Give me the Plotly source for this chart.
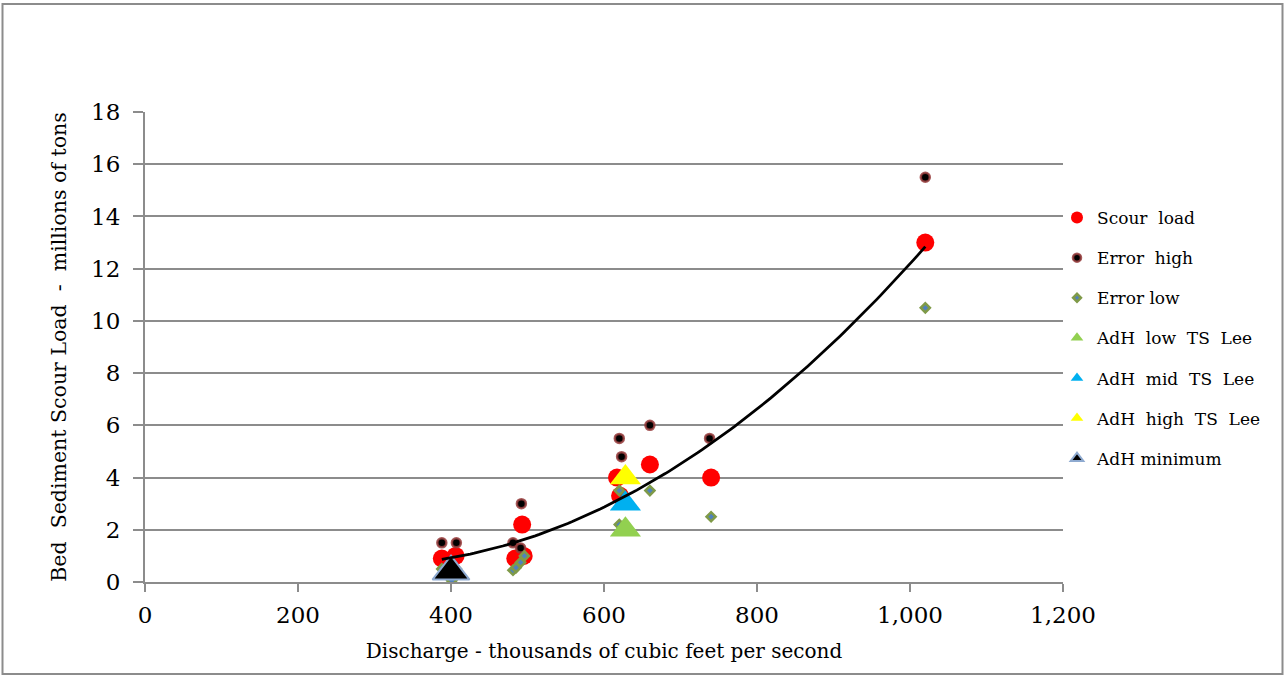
import numpy as np
import plotly.graph_objects as go

# Discharge (thousand cfs) and bed sediment scour load (million tons)
scour_x = [388, 406, 484, 495, 493, 617, 621, 660, 740, 1020]
scour_y = [0.9, 1.0, 0.9, 1.0, 2.2, 4.0, 3.3, 4.5, 4.0, 13.0]

err_high_x = [388, 407, 481, 491, 492, 620, 623, 660, 738, 1020]
err_high_y = [1.5, 1.5, 1.5, 1.3, 3.0, 5.5, 4.8, 6.0, 5.5, 15.5]

err_low_x = [388, 407, 401, 481, 485, 491, 496, 620, 620, 660, 740, 1020]
err_low_y = [0.5, 0.5, 0.05, 0.45, 0.55, 0.75, 1.0, 2.2, 3.5, 3.5, 2.5, 10.5]

adh_low_x, adh_low_y = [628], [2.0]
adh_mid_x, adh_mid_y = [628], [3.0]
adh_high_x, adh_high_y = [628], [4.0]
adh_min_x, adh_min_y = [400], [0.4]

x_ticks = [0, 200, 400, 600, 800, 1000, 1200]
x_tick_text = ["0", "200", "400", "600", "800", "1,000", "1,200"]
y_ticks = [0, 2, 4, 6, 8, 10, 12, 14, 16, 18]

# Second-order polynomial trendline fitted to the scour load points
coef = np.polyfit(scour_x, scour_y, 2)
trend_x = np.linspace(min(scour_x), max(scour_x), 120)
trend_y = np.polyval(coef, trend_x)

FONT = "DejaVu Serif"
W, H = 1285, 677
ML, MR, MT, MB = 145, 222, 112, 95
NB = "\u00a0"

fig = go.Figure()

def add(name, x, y, group, legend_size, **marker):
    # plotted points (legend entry supplied by a companion key trace with smaller symbol)
    fig.add_trace(go.Scatter(x=x, y=y, mode="markers", name=name, showlegend=False,
                             legendgroup=group, marker=marker))
    key_marker = dict(marker)
    key_marker["size"] = legend_size
    fig.add_trace(go.Scatter(x=[None], y=[None], mode="markers", name=name,
                             legendgroup=group, marker=key_marker, hoverinfo="skip"))

add("Scour" + NB + NB + "load", scour_x, scour_y, "g1", 12,
    color="#ff0000", size=18, line=dict(width=0))
add("Error" + NB + NB + "high", err_high_x, err_high_y, "g2", 8,
    color="#000000", size=9, line=dict(color="rgba(150,60,60,0.85)", width=2.5))
add("Error low", err_low_x, err_low_y, "g3", 6, symbol="diamond",
    color="#4f81bd", size=7, line=dict(color="#7f9a48", width=2.5))
add("AdH" + NB + NB + "low" + NB + NB + "TS" + NB + NB + "Lee", adh_low_x, adh_low_y, "g4", 11,
    symbol="triangle-up", color="#92d050", size=27, line=dict(width=0))
add("AdH" + NB + NB + "mid" + NB + NB + "TS" + NB + NB + "Lee", adh_mid_x, adh_mid_y, "g5", 11,
    symbol="triangle-up", color="#00b0f0", size=27, line=dict(width=0))
add("AdH" + NB + NB + "high" + NB + NB + "TS" + NB + NB + "Lee", adh_high_x, adh_high_y, "g6", 11,
    symbol="triangle-up", color="#ffff00", size=27, line=dict(width=0))
add("AdH minimum", adh_min_x, adh_min_y, "g7", 11,
    symbol="triangle-up", color="#000000", size=32, line=dict(color="#8eaad0", width=2))

fig.add_trace(go.Scatter(x=trend_x, y=trend_y, mode="lines", showlegend=False,
                         line=dict(color="#000000", width=2.8), hoverinfo="skip"))

pw = W - ML - MR
ph = H - MT - MB
def px_to_paper_x(p):
    return (p - ML) / pw
def px_to_paper_y(p):
    return (H - MB - p) / ph

fig.update_layout(
    width=W, height=H,
    margin=dict(l=ML, r=MR, t=MT, b=MB),
    paper_bgcolor="white", plot_bgcolor="white",
    font=dict(family=FONT, color="#000000"),
    showlegend=True,
    legend=dict(x=px_to_paper_x(1057), y=px_to_paper_y(200), xanchor="left", yanchor="top",
                font=dict(family=FONT, size=17), tracegroupgap=15,
                itemsizing="trace", bgcolor="rgba(0,0,0,0)"),
    xaxis=dict(range=[0, 1200], tickvals=x_ticks, ticktext=x_tick_text,
               showgrid=False, zeroline=False, showline=True, linecolor="#8c8c8c", linewidth=2,
               ticks="outside", ticklen=8, tickwidth=2, tickcolor="#8c8c8c",
               tickfont=dict(family=FONT, size=23), ticklabelstandoff=3,
               title=dict(text="Discharge - thousands of cubic feet per second",
                          font=dict(family=FONT, size=20), standoff=17),
               automargin=False),
    yaxis=dict(range=[0, 18], tickvals=y_ticks,
               showgrid=True, gridcolor="#8c8c8c", gridwidth=2,
               zeroline=False, showline=True, linecolor="#8c8c8c", linewidth=2,
               ticks="outside", ticklen=10, tickwidth=2, tickcolor="#8c8c8c",
               tickfont=dict(family=FONT, size=23), ticklabelstandoff=8,
               title=dict(text="Bed" + NB + NB + "Sediment Scour Load" + NB + NB + "-" + NB + NB + "millions of tons",
                          font=dict(family=FONT, size=20.5), standoff=19),
               automargin=False),
    shapes=[dict(type="rect", xref="paper", yref="paper",
                 x0=px_to_paper_x(2.5), x1=px_to_paper_x(1282.5),
                 y0=px_to_paper_y(674), y1=px_to_paper_y(4),
                 line=dict(color="#8c8c8c", width=2), fillcolor="rgba(0,0,0,0)", layer="below")],
)

fig.write_html("out.html")
